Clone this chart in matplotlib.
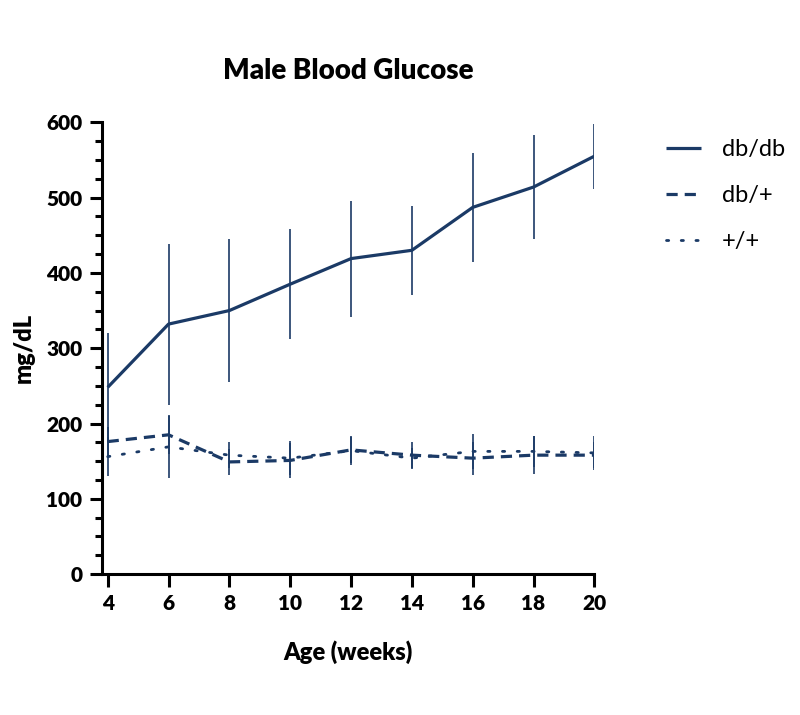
import matplotlib.pyplot as plt
from matplotlib.ticker import MultipleLocator

plt.rcParams['font.family'] = ['Lato', 'DejaVu Sans']

# Data
weeks = [4, 6, 8, 10, 12, 14, 16, 18, 20]

dbdb = [248, 332, 350, 385, 419, 430, 487, 514, 555]
dbdb_err = [72, 107, 95, 73, 77, 59, 72, 69, 43]

dbhet = [176, 185, 149, 151, 165, 158, 154, 158, 158]
dbhet_err = [20, 26, 17, 23, 17, 17, 22, 25, 17]

wt = [156, 169, 158, 154, 164, 154, 163, 163, 161]
wt_err = [26, 41, 17, 23, 19, 14, 23, 21, 23]

color = '#1b3a66'

fig = plt.figure(figsize=(8, 7.15), dpi=100)
ax = fig.add_axes([0.127, 0.197, 0.616, 0.632])

ax.errorbar(weeks, dbdb, yerr=dbdb_err, color=color, lw=2.3, elinewidth=1.2,
            capsize=0, label='db/db', solid_capstyle='butt')
ax.errorbar(weeks, dbhet, yerr=dbhet_err, color=color, lw=2.3, elinewidth=1.2,
            capsize=0, ls=(0, (3.5, 2.2)), label='db/+')
ax.errorbar(weeks, wt, yerr=wt_err, color=color, lw=2.0, elinewidth=1.2,
            capsize=0, ls=(0, (0.8, 4.5)), label='+/+', dash_capstyle='round')

ax.set_xlim(3.8, 20)
ax.set_ylim(0, 600)
ax.set_xticks(weeks)
ax.yaxis.set_major_locator(MultipleLocator(100))
ax.yaxis.set_minor_locator(MultipleLocator(25))

for s in ['top', 'right']:
    ax.spines[s].set_visible(False)
for s in ['left', 'bottom']:
    ax.spines[s].set_linewidth(2.2)
ax.spines['bottom'].set_bounds(3.8, 20)

ax.tick_params(axis='both', which='major', length=9, width=2.2, labelsize=15, pad=5)
ax.tick_params(axis='y', which='minor', length=5, width=2.2)
for lab in ax.get_xticklabels() + ax.get_yticklabels():
    lab.set_fontweight('heavy')

ax.set_xlabel('Age (weeks)', fontsize=17, fontweight='heavy', labelpad=20)
ax.set_ylabel('mg/dL', fontsize=17, fontweight='heavy', labelpad=8)
ax.set_title('Male Blood Glucose', fontsize=20, fontweight='heavy', pad=31)

handles, labels = ax.get_legend_handles_labels()
handles = [h[0] for h in handles]
fig.legend(handles, labels, loc='upper left', bbox_to_anchor=(0.806, 0.835),
           frameon=False, fontsize=17, handlelength=1.5, labelspacing=1.05,
           handletextpad=0.85)

fig.savefig('out.png', dpi=100)
